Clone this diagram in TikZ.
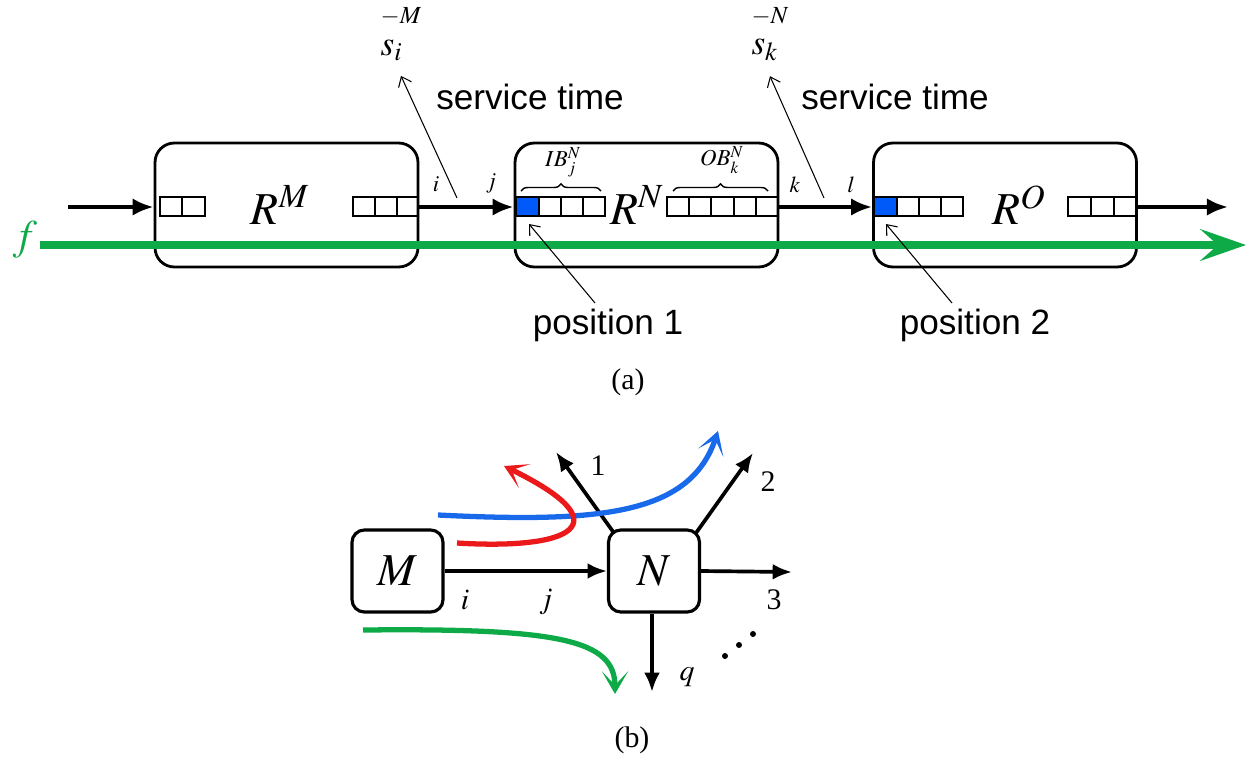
\documentclass[tikz,border=0pt]{standalone}
\usepackage{mathptmx}
\usepackage{fontspec}
\setmainfont{Liberation Serif}
\newfontfamily\arialf{Liberation Sans}
\usetikzlibrary{arrows.meta,decorations.pathreplacing}
\definecolor{fgreen}{RGB}{14,170,72}
\definecolor{qblue}{RGB}{0,90,250}
\definecolor{cblue}{RGB}{25,105,235}
\definecolor{cred}{RGB}{235,25,25}
\begin{document}
\begin{tikzpicture}[x=0.02cm,y=-0.02cm,
  router/.style={draw,line width=1.6pt,rounded corners=11pt,minimum width=5.26cm,minimum height=2.48cm,inner sep=0pt},
  smallbox/.style={draw,line width=1.8pt,rounded corners=7pt,minimum width=1.82cm,minimum height=1.64cm,inner sep=0pt},
  cellst/.style={draw,line width=0.8pt},
  qcell/.style={draw,line width=0.8pt,fill=qblue},
  flow/.style={line width=2.4pt,-{Latex[length=12pt,width=10pt]}},
  bflow/.style={line width=2.1pt,-{Latex[length=11pt,width=9pt]}},
  thinarrow/.style={line width=0.6pt,-{Straight Barb[length=5pt,width=8pt]}},
  sanslbl/.style={font=\arialf\fontsize{20}{24}\selectfont,inner sep=0pt},
  rlbl/.style={font=\fontsize{26}{30}\selectfont,inner sep=0pt},
  smlbl/.style={font=\fontsize{13}{15}\selectfont,inner sep=0pt},
  blbl/.style={font=\fontsize{17}{20}\selectfont,inner sep=0pt},
  curve/.style={line width=3pt,-{Stealth[length=13pt,width=15pt,inset=8pt]}},
  brc/.style={decorate,decoration={brace,amplitude=4pt},line width=0.8pt}
]
\path[use as bounding box] (0,0) rectangle (1250,761);

% ---------- (a) ----------
\node[router] (RM) at (286.5,205) {};
\node[router] (RN) at (646.5,205) {};
\node[router] (RO) at (1005,205) {};

\node[rlbl] (RMl) at (280,205) {$R^M$};
\node[rlbl] (RNl) at (637,205) {$R^N$};
\node[rlbl] (ROl) at (1019,205) {$R^O$};

% buffers
\foreach \a/\b in {160/182,182/205,353/375,375/397,397/418,
                   539/561,561/583,583/605,667/689,689/711,711/734,734/756,756/778,
                   897/919,919/941,941/963,1068/1091,1091/1114,1114/1137}
  \draw[cellst] (\a,197) rectangle (\b,216);
\draw[qcell] (516,197) rectangle (539,216);
\draw[qcell] (874,197) rectangle (897,216);

% braces
\draw[brc] (521,191) -- (601,191);
\draw[brc] (673,191) -- (768,191);
\node[smlbl] (IB) at (563,162) {$IB_j^N$};
\node[smlbl] (OB) at (722,160) {$OB_k^N$};

% black flow arrows
\coordinate (ain) at (68,207);
\coordinate (aout) at (1228,207);
\draw[flow] (ain) -- (RM.west |- ain);
\draw[flow] (RM.east |- ain) -- (RN.west |- ain);
\draw[flow] (RN.east |- ain) -- (RO.west |- ain);
\draw[flow] (RO.east |- aout) -- (aout);

\node[smlbl] (li) at (436,184) {$i$};
\node[smlbl] (lj) at (491,183) {$j$};
\node[smlbl] (lk) at (795,185) {$k$};
\node[smlbl] (ll) at (851,185) {$l$};

% green flow
\coordinate (gs) at (40,245);
\coordinate (ge) at (1246,245);
\draw[fgreen,line width=4pt,-{Stealth[length=26pt,width=18pt,inset=10pt]}] (gs) -- (ge);
\node[font=\fontsize{24}{28}\selectfont,text=fgreen,inner sep=0pt] (f) at (25,240) {$f$};

% service times
\node[font=\fontsize{20}{22}\selectfont,align=left,inner sep=0pt] (si) at (401,34)
  {{\fontsize{14}{14}\selectfont$-M$}\\[-4pt]$s_i$};
\node[font=\fontsize{20}{22}\selectfont,align=left,inner sep=0pt] (sk) at (770,34)
  {{\fontsize{14}{14}\selectfont$-N$}\\[-4pt]$s_k$};
\coordinate (st1) at (457,198);
\coordinate (st2) at (824,198);
\draw[thinarrow] (st1) -- ([yshift=-0.3cm]si.south);
\draw[thinarrow] (st2) -- ([yshift=-0.3cm]sk.south);
\node[sanslbl] (svc1) at (530,97) {service time};
\node[sanslbl] (svc2) at (895,97) {service time};

% positions
\node[sanslbl] (pos1) at (608,325) {position 1};
\node[sanslbl] (pos2) at (975,325) {position 2};
\coordinate (p1s) at (595,303);
\coordinate (p1t) at (529,224);
\coordinate (p2s) at (952,303);
\coordinate (p2t) at (886,224);
\draw[thinarrow] (p1s) -- (p1t);
\draw[thinarrow] (p2s) -- (p2t);

\node[blbl] (capa) at (628,382) {(a)};

% ---------- (b) ----------
\node[smallbox,font=\fontsize{26}{30}\selectfont] (M) at (397.5,571) {$M$};
\node[smallbox,font=\fontsize{26}{30}\selectfont] (N) at (654,571) {$N$};

\coordinate (o1) at (556,452);
\coordinate (o2) at (753,453);
\coordinate (o3) at (792,572);
\coordinate (oq) at (652,692);
\coordinate (n1) at (614,533);
\coordinate (n2) at (696,533);
\draw[bflow] (M.east) -- (N.west);
\draw[bflow] (N.east) -- (o3);
\draw[bflow] (N.south -| oq) -- (oq);
\draw[bflow] (n1) -- (o1);
\draw[bflow] (n2) -- (o2);

\node[blbl] (b1) at (598,466) {1};
\node[blbl] (b2) at (768,482) {2};
\node[blbl] (b3) at (774,600) {3};
\node[blbl] (bq) at (687,677) {$q$};
\node[blbl] (bi) at (465,600) {$i$};
\node[blbl] (bj) at (546,602) {$j$};
\fill (725,656) circle (3);
\fill (739,645) circle (3);
\fill (753,634) circle (3);

% coloured flows
\coordinate (bls) at (438,515);
\coordinate (ble) at (718,431);
\draw[cblue,curve] (bls) .. controls (600,523) and (690,515) .. (ble);
\coordinate (rds) at (457,543);
\coordinate (rde) at (504,466);
\draw[cred,curve] (rds) .. controls (570,550) and (625,525) .. (rde);
\coordinate (grs) at (363,630);
\coordinate (gre) at (615,694);
\draw[fgreen,curve] (grs) .. controls (560,628) and (615,640) .. (gre);

\node[blbl] (capb) at (632,740) {(b)};
\end{tikzpicture}
\end{document}
